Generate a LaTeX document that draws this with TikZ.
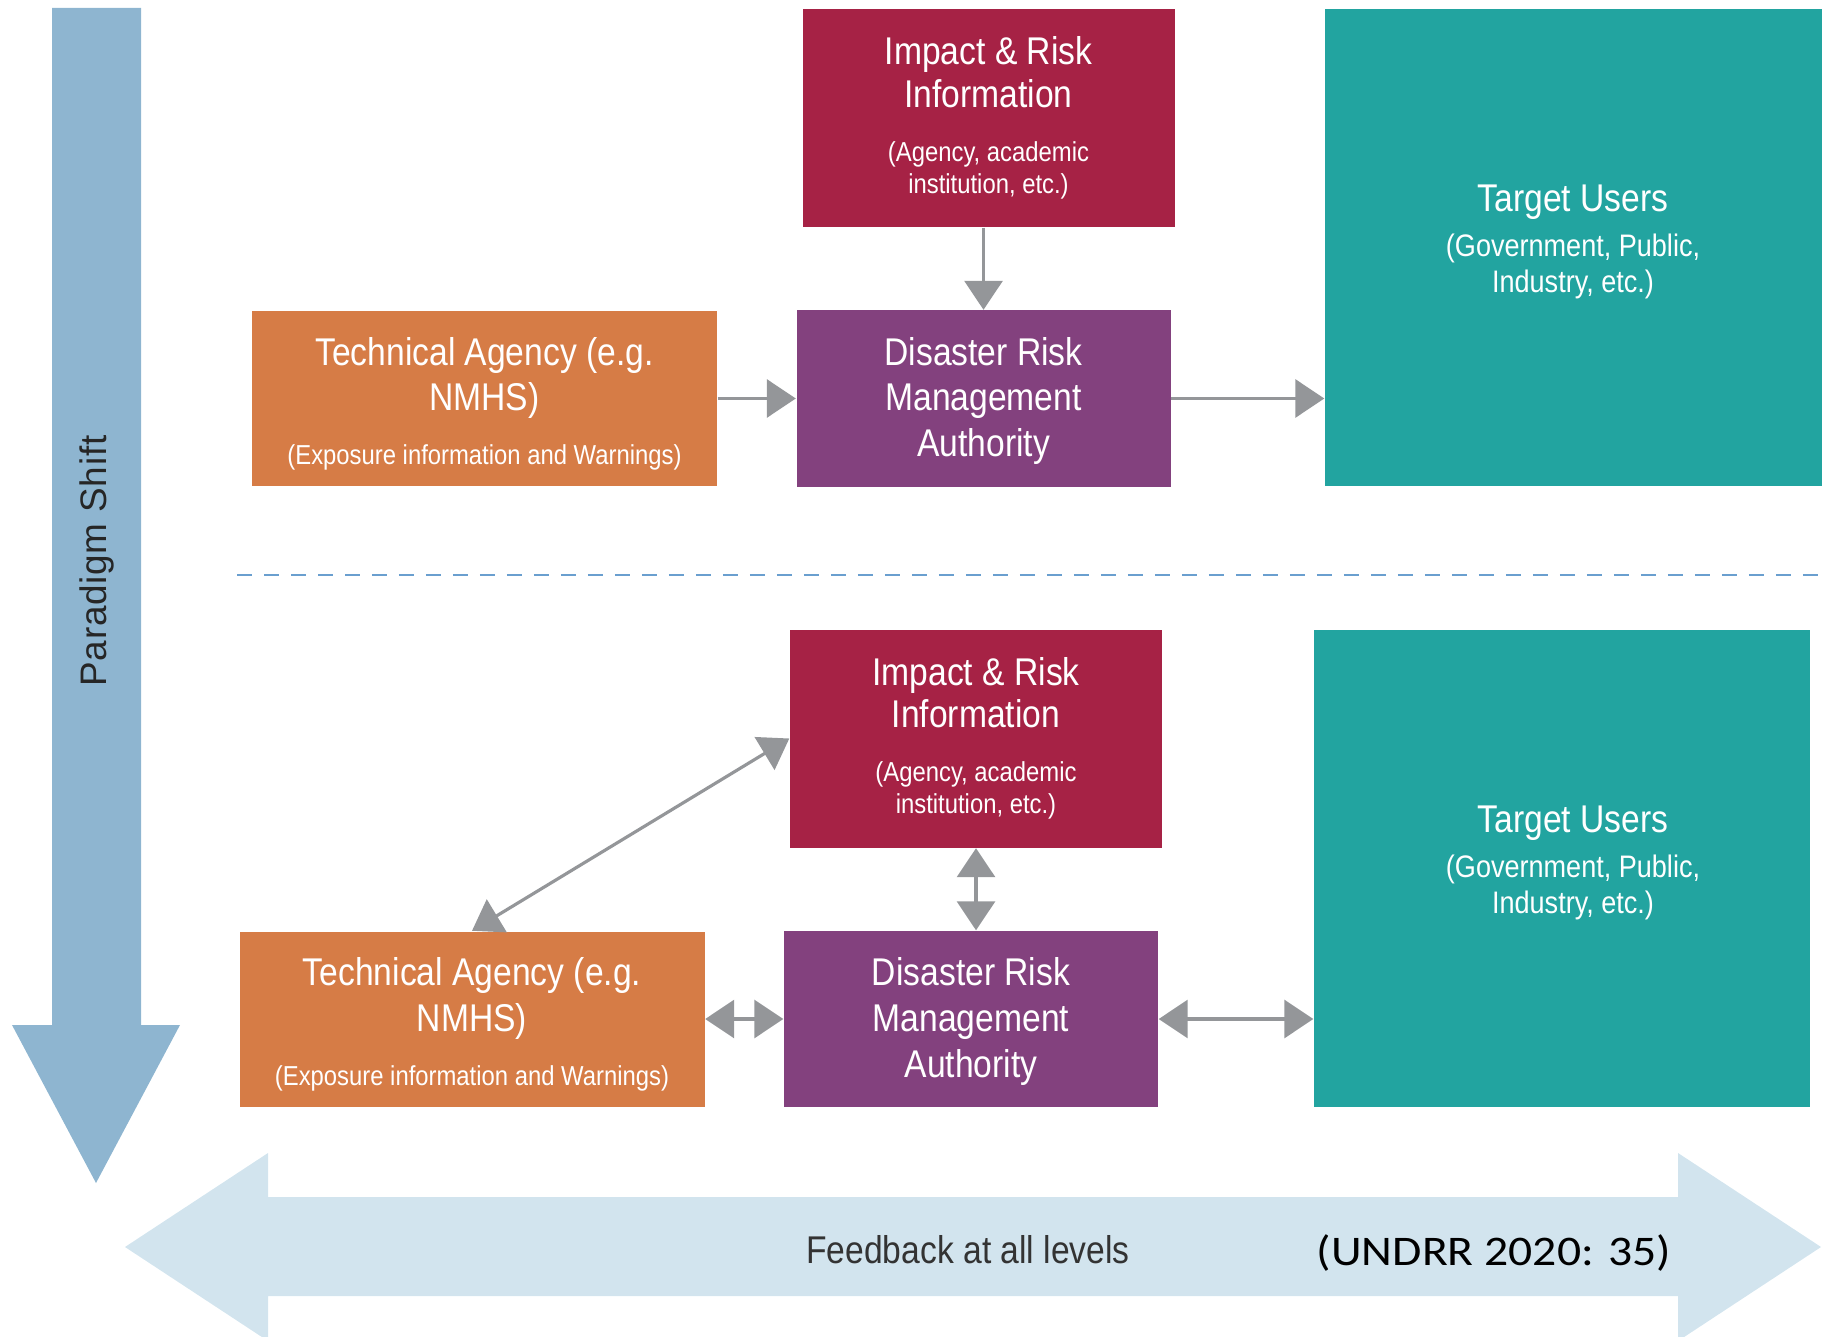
\documentclass[tikz,border=0pt]{standalone}
\usepackage{fontspec}
\setmainfont{Liberation Sans}[FakeStretch=0.87]
\newfontfamily\shiftfont{Liberation Sans}[LetterSpace=2]
\newfontfamily\citefont{Carlito}[FakeStretch=1.13]
\usepackage{tikz}
\usetikzlibrary{arrows.meta,positioning}

\definecolor{IRIred}{HTML}{A62245}
\definecolor{DRMApurple}{HTML}{83417E}
\definecolor{TAorange}{HTML}{D67C46}
\definecolor{TUteal}{HTML}{22A4A0}
\definecolor{ShiftBlue}{HTML}{8EB5D0}
\definecolor{FeedBlue}{HTML}{D2E4EE}
\definecolor{LinkGray}{HTML}{949699}
\definecolor{DashBlue}{HTML}{6A9FCF}

\newcommand{\boxtitle}{\fontsize{11}{13}\selectfont}
\newcommand{\boxsub}{\fontsize{7.8}{9.2}\selectfont}
\newcommand{\tusub}{\fontsize{8.85}{10.3}\selectfont}

\tikzset{
  block/.style={inner sep=0pt, align=flush center, text=white, font=\boxtitle},
  iri/.style={block, fill=IRIred, minimum width=3.72cm, minimum height=2.18cm,
    text width=3.6cm, font=\fontsize{11}{12}\selectfont},
  drma/.style={block, fill=DRMApurple, minimum width=3.74cm, minimum height=1.76cm,
    text width=3.6cm},
  tech/.style={block, fill=TAorange, minimum width=4.65cm, minimum height=1.75cm,
    text width=4.5cm},
  users/.style={fill=TUteal, inner sep=0pt, minimum height=4.77cm},
  userstxt/.style={block, anchor=north, text width=4cm},
  link/.style={draw=LinkGray, line width=0.9pt, -{Triangle[length=0.29cm, width=0.38cm]}},
  dlink/.style={link, {Triangle[length=0.29cm, width=0.38cm]}-{Triangle[length=0.29cm, width=0.38cm]}},
}

\begin{document}
\begin{tikzpicture}
    \useasboundingbox (0, 0) rectangle (18.22, -13.37);

    % paradigm shift
    \fill[ShiftBlue] (0.52, -0.08) -- (1.41, -0.08) -- (1.41, -10.25) -- (1.80, -10.25)
      -- (0.96, -11.83) -- (0.12, -10.25) -- (0.52, -10.25) -- cycle;
    \node[rotate=90, text=black!85, font=\shiftfont\fontsize{10.5}{12}\selectfont](shift)
      at (0.97, -5.61){Paradigm Shift};

    % feedback at all levels
    \fill[FeedBlue] (1.25, -12.47) -- (2.68, -11.53) -- (2.68, -11.97) -- (16.78, -11.97)
      -- (16.78, -11.53) -- (18.21, -12.47) -- (16.78, -13.41) -- (16.78, -12.96)
      -- (2.68, -12.96) -- (2.68, -13.41) -- cycle;
    \node[text=black!80, font=\fontsize{11}{13}\selectfont](feedback)
      at (9.68, -12.50){Feedback at all levels};
    \node[font=\citefont\fontsize{12}{14}\selectfont](source)
      at (14.94, -12.53){(UNDRR 2020: 35)};

    % divider
    \draw[DashBlue, line width=0.6pt, dash pattern=on 0.15cm off 0.12cm]
      (2.37, -5.75) -- (18.22, -5.75);

    % top: linear chain
    \node[iri](iri1) at (9.885, -1.18){Impact \& Risk\\Information\par\vspace{6.2pt}
      \boxsub (Agency, academic\\institution, etc.)\par};
    \node[drma](drma1) at (9.835, -3.985){\rule{0pt}{9.3pt}Disaster Risk\\Management\\Authority};
    \node[tech](ta1) at (4.845, -3.985){\rule{0pt}{11pt}Technical Agency (e.g.\\NMHS)\par
      \vspace{6.2pt}\boxsub (Exposure information and Warnings)\par};
    \node[users, minimum width=5.05cm](tu1) at (15.775, -2.475){};
    \node[userstxt](tu1txt) at (15.73, -1.84){Target Users\par\vspace{2.5pt}
      \tusub (Government, Public,\\Industry, etc.)\par};
    \draw[link] (iri1.south -| drma1.north) -- (drma1.north);
    \draw[link] (ta1.east) -- (drma1.west);
    \draw[link] (drma1.east) -- (drma1.east -| tu1.west);

    % bottom: two-way links
    \node[iri](iri2) at (9.76, -7.385){Impact \& Risk\\Information\par\vspace{6.2pt}
      \boxsub (Agency, academic\\institution, etc.)\par};
    \node[drma](drma2) at (9.71, -10.19){\rule{0pt}{9.3pt}Disaster Risk\\Management\\Authority};
    \node[tech](ta2) at (4.72, -10.19){\rule{0pt}{11pt}Technical Agency (e.g.\\NMHS)\par
      \vspace{6.2pt}\boxsub (Exposure information and Warnings)\par};
    \node[users, minimum width=4.96cm](tu2) at (15.62, -8.68){};
    \node[userstxt](tu2txt) at (15.73, -8.05){Target Users\par\vspace{2.5pt}
      \tusub (Government, Public,\\Industry, etc.)\par};
    \draw[dlink] (ta2.north) -- (iri2.west);
    \draw[dlink] (iri2.south) -- (iri2.south |- drma2.north);
    \draw[dlink] (ta2.east) -- (drma2.west);
    \draw[dlink] (drma2.east) -- (drma2.east -| tu2.west);
\end{tikzpicture}
\end{document}
